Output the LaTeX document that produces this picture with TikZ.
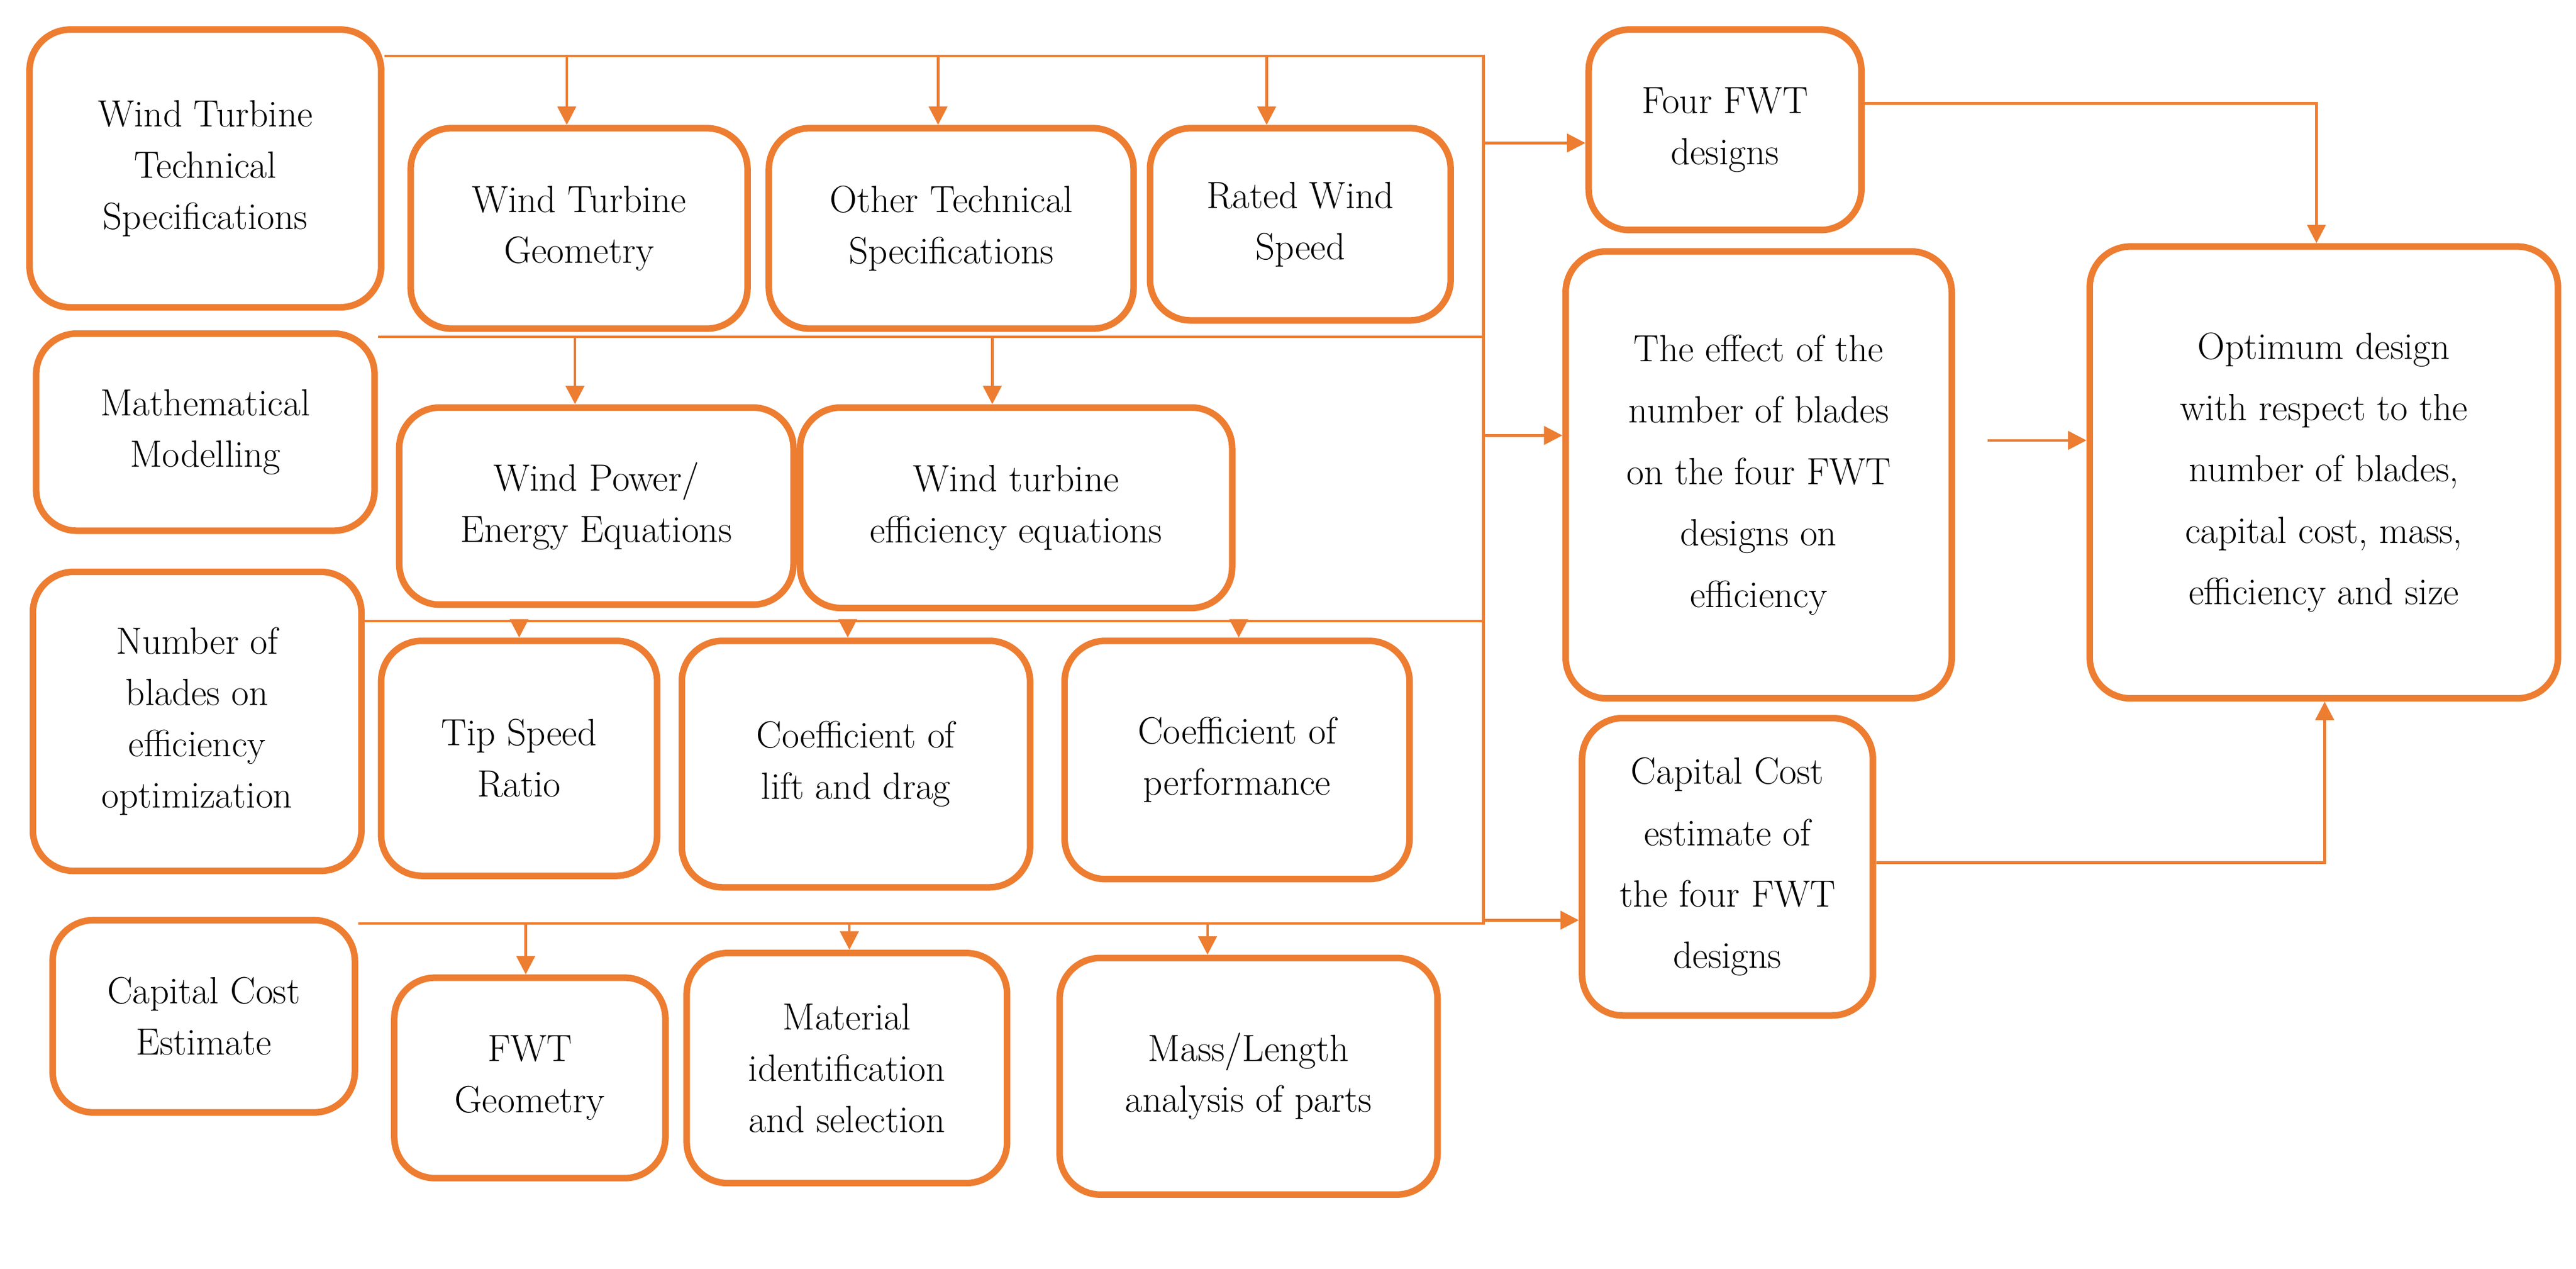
\documentclass[tikz,border=0pt]{standalone}
\usetikzlibrary{arrows.meta}
\definecolor{or}{HTML}{ED7D31}
\begin{document}
\begin{tikzpicture}[x=0.0282cm,y=-0.0282cm,
  bx/.style={draw=or,line width=3.2pt,rounded corners=0.7cm,align=center,inner sep=2pt,font=\fontsize{18.5}{25}\selectfont},
  big/.style={font=\fontsize{18.5}{30}\selectfont},
  ln/.style={draw=or,line width=1.3pt},
  arr/.style={ln,-{Triangle[length=9pt,width=9pt]}}]
\useasboundingbox (0,0) rectangle (1568,772);
\newcommand\bx[7][]{\node[bx,#1,minimum width={(#5-#3)*0.0282cm},minimum height={(#6-#4)*0.0282cm}] (#2) at ({(#3+#5)/2},{(#4+#6)/2}) {#7};}
\bx{l1}{18}{18}{232}{187}{Wind Turbine\\Technical\\Specifications}
\bx{l2}{22}{203}{228}{323}{Mathematical\\Modelling}
\bx{l3}{20}{348}{220}{530}{Number of\\blades on\\efficiency\\optimization}
\bx{l4}{32}{560}{216}{677}{Capital Cost\\Estimate}
\bx{a1}{250}{78}{455}{200}{Wind Turbine\\Geometry}
\bx{a2}{468}{78}{690}{200}{Other Technical\\Specifications}
\bx{a3}{700}{78}{883}{195}{Rated Wind\\Speed}
\bx{b1}{243}{248}{483}{368}{Wind Power/\\Energy Equations}
\bx{b2}{487}{248}{750}{370}{Wind turbine\\efficiency equations}
\bx{c1}{232}{390}{400}{533}{Tip Speed\\Ratio}
\bx{c2}{415}{390}{627}{540}{Coefficient of\\lift and drag}
\bx{c3}{648}{390}{858}{535}{Coefficient of\\performance}
\bx{d1}{240}{595}{405}{717}{FWT\\Geometry}
\bx{d2}{418}{580}{613}{720}{Material\\identification\\and selection}
\bx{d3}{645}{583}{875}{727}{Mass/Length\\analysis of parts}
\bx{r1}{967}{18}{1133}{140}{Four FWT\\designs}
\bx[big]{r2}{953}{153}{1188}{425}{The effect of the\\number of blades\\on the four FWT\\designs on\\efficiency}
\bx[big]{r3}{963}{437}{1140}{618}{Capital Cost\\estimate of\\the four FWT\\designs}
\bx[big]{op}{1272}{150}{1557}{425}{Optimum design\\with respect to the\\number of blades,\\capital cost, mass,\\efficiency and size}
\coordinate (h1) at (903,34); \coordinate (h2) at (903,205);
\coordinate (h3) at (903,378); \coordinate (h4) at (903,562);
\draw[ln] (l1.east |- h1) -- (h1) -- (h4) -- (l4.east |- h4);
\draw[ln] (l2.east |- h2) -- (h2);
\draw[ln] (l3.east |- h3) -- (h3);
\foreach \x/\n in {345/a1,571/a2,771/a3} \draw[arr] (\x,34) -- (\n.north -| \x,0);
\foreach \x/\n in {350/b1,604/b2} \draw[arr] (\x,205) -- (\n.north -| \x,0);
\foreach \x/\n in {316/c1,516/c2,754/c3} \draw[arr] (\x,378) -- (\n.north -| \x,0);
\foreach \x/\n in {320/d1,517/d2,735/d3} \draw[arr] (\x,562) -- (\n.north -| \x,0);
\draw[arr] (903,87) -- (r1.west |- 0,87);
\draw[arr] (903,265) -- (r2.west |- 0,265);
\draw[arr] (903,560) -- (r3.west |- 0,560);
\draw[arr] (r1.east |- 0,63) -| (op.north -| 1410,0);
\draw[arr] (1210,268) -- (op.west |- 0,268);
\draw[arr] (r3.east |- 0,525) -| (op.south -| 1415,0);
\end{tikzpicture}
\end{document}
